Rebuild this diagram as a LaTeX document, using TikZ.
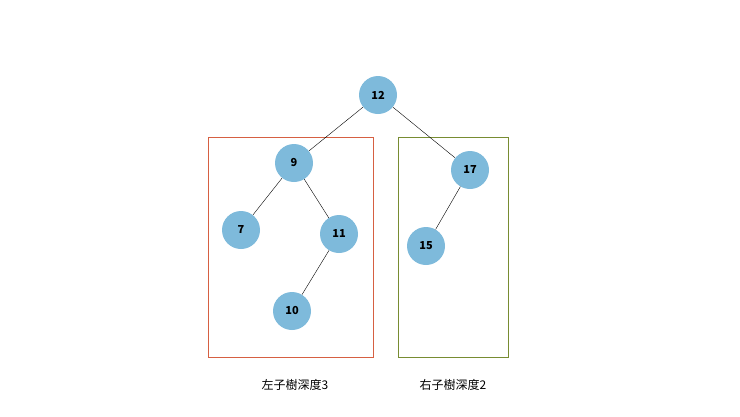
\documentclass[tikz,border=0pt]{standalone}
\usepackage{fontspec}
\setmainfont{Noto Sans CJK TC}
\definecolor{nodeblue}{RGB}{126,186,219}
\definecolor{boxred}{RGB}{214,96,66}
\definecolor{boxgreen}{RGB}{120,140,50}
\begin{document}
\begin{tikzpicture}[x=1pt,y=-1pt,
  nd/.style={circle,fill=nodeblue,minimum size=38pt,inner sep=0pt,font=\bfseries\fontsize{11}{13}\selectfont},
  lbl/.style={font=\fontsize{12}{14}\selectfont}]
\useasboundingbox (0,0) rectangle (740,416);
\draw[boxred,line width=1pt] (208,137) rectangle (373,357);
\draw[boxgreen,line width=1pt] (398,137) rectangle (508,357);
\node[nd] (n12) at (378,95) {12};
\node[nd] (n9) at (294,163) {9};
\node[nd] (n17) at (470,170) {17};
\node[nd] (n7) at (241,230) {7};
\node[nd] (n11) at (339,234) {11};
\node[nd] (n15) at (426,246) {15};
\node[nd] (n10) at (292,311) {10};
\draw (n12)--(n9); \draw (n12)--(n17);
\draw (n9)--(n7); \draw (n9)--(n11);
\draw (n11)--(n10); \draw (n17)--(n15);
\node[lbl] (l1) at (295,385) {左子樹深度3};
\node[lbl] (l2) at (453,385) {右子樹深度2};
\end{tikzpicture}
\end{document}
